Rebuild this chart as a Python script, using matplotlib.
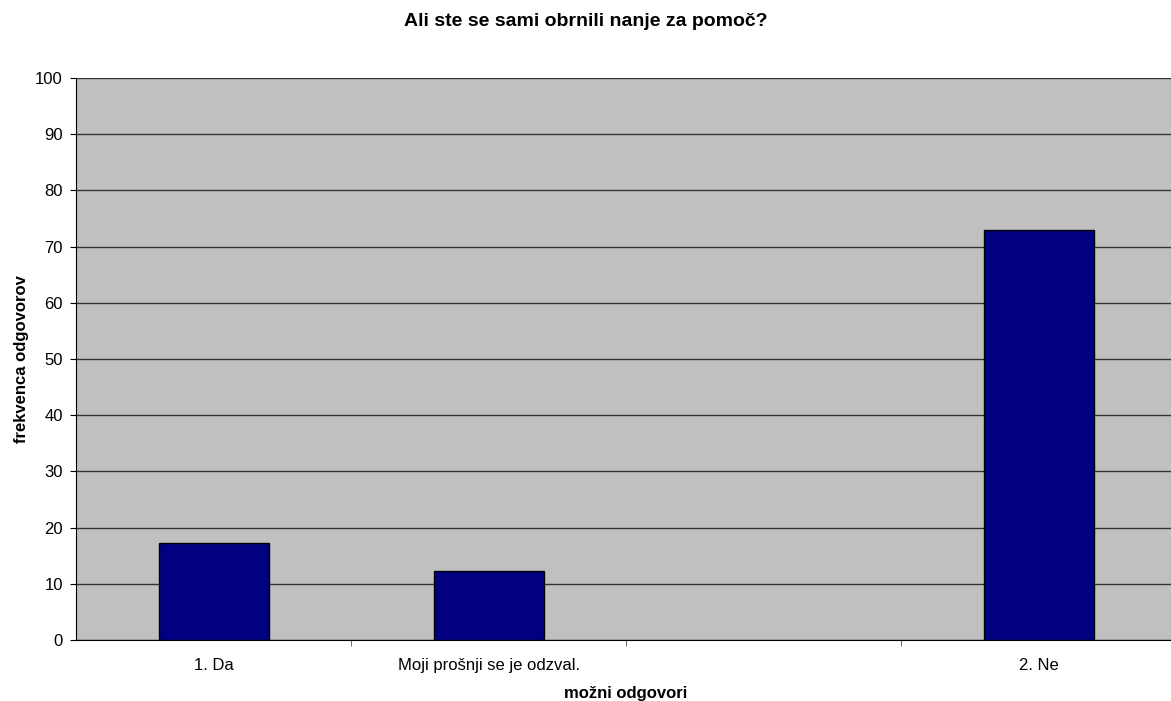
import matplotlib.pyplot as plt
import numpy as np

categories = ["1. Da", "Moji prošnji se je odzval.", "", "2. Ne"]
values = [17.3, 12.3, 0, 73.0]
y_ticks = list(range(0, 101, 10))


def main():
    plt.rcParams['font.family'] = ['Liberation Sans', 'DejaVu Sans']
    fig = plt.figure(figsize=(11.71, 7.01), dpi=100)
    ax = fig.add_axes([76 / 1171, 1 - 640 / 701, 1100 / 1171, 562 / 701])

    x = np.arange(len(categories))
    vals = np.array(values)
    shown = vals > 0
    ax.set_facecolor("#C0C0C0")
    ax.bar(x[shown], vals[shown], width=0.4, color="#000080",
           edgecolor="black", linewidth=1, zorder=3)

    ax.set_xlim(-0.5, len(categories) - 0.5)
    ax.set_ylim(0, 100)
    ax.set_yticks(y_ticks)
    ax.yaxis.grid(True, color="#333333", linewidth=1, zorder=1)
    ax.set_axisbelow(True)

    ax.set_xticks(x)
    ax.set_xticklabels(categories, fontsize=12)
    ax.set_xticks(np.arange(0.5, len(categories) - 0.5, 1), minor=True)
    ax.tick_params(axis="x", which="major", length=0, pad=13)
    ax.tick_params(axis="x", which="minor", length=4.5, direction="out",
                   color="#555555")
    ax.tick_params(axis="y", length=4.5, direction="out", labelsize=12,
                   pad=5)

    for s in ["top", "right"]:
        ax.spines[s].set_visible(False)
    ax.spines["left"].set_color("black")
    ax.spines["bottom"].set_color("black")

    ax.set_xlabel("možni odgovori", fontsize=12, fontweight="bold",
                  labelpad=9)
    ax.set_ylabel("frekvenca odgovorov", fontsize=12, fontweight="bold",
                  labelpad=4)
    fig.text(0.5, 1 - 21 / 701, "Ali ste se sami obrnili nanje za pomoč?",
             ha="center", va="center", fontsize=14, fontweight="bold")

    fig.savefig("out.png", dpi=100)


if __name__ == "__main__":
    main()
